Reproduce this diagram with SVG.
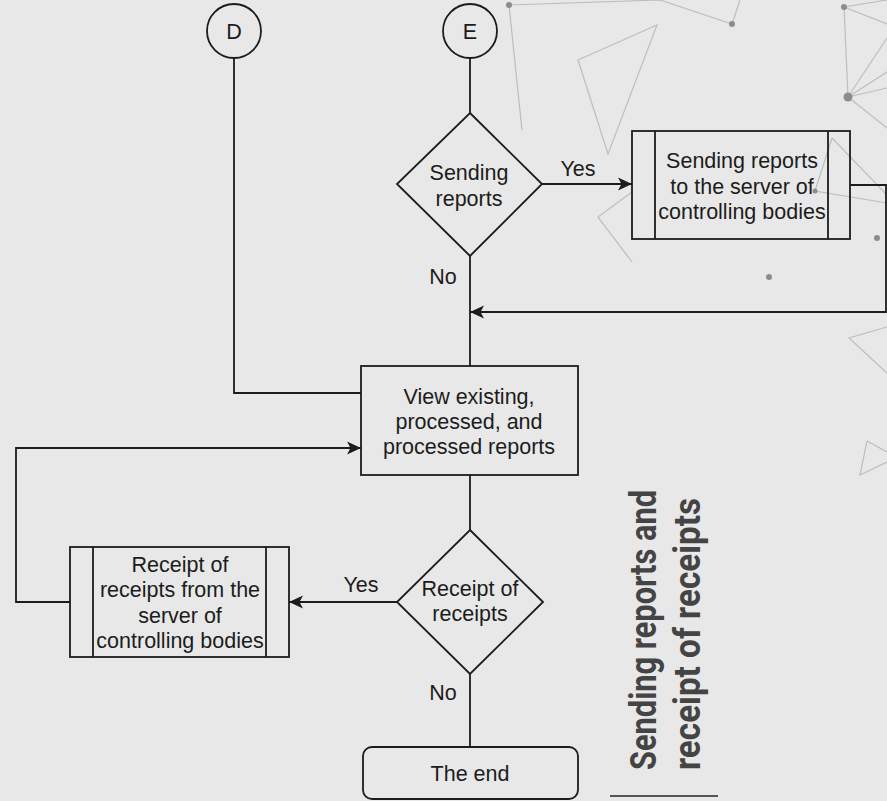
<svg xmlns="http://www.w3.org/2000/svg" width="887" height="801" viewBox="0 0 887 801">
<defs>
<style>
.bg{fill:#e8e8e8}
.deco{stroke:#bdbdbd;stroke-width:1.2;fill:none}
.dot{fill:#8c8c8c}
.shape{fill:none;stroke:#1c1c1c;stroke-width:1.8}
.edge{fill:none;stroke:#1c1c1c;stroke-width:1.8}
.lbl{font-family:"Liberation Sans",Arial,sans-serif;font-size:21.5px;fill:#1c1c1c;text-anchor:middle}
.title{font-family:Roboto,"Liberation Sans",sans-serif;font-weight:bold;font-size:37px;fill:#444444}
</style>
<marker id="arr" markerUnits="userSpaceOnUse" markerWidth="16" markerHeight="14" viewBox="-1 -7 16 14" refX="14" refY="0" orient="auto">
<path d="M0,-6.5 L14,0 L0,6.5 L3.5,0 Z" fill="#1c1c1c"/>
</marker>
</defs>
<rect class="bg" x="0" y="0" width="887" height="801"/>
<g id="background">
<path class="deco" d="M509,5 L660,0 M509,5 L522,130 M657,25 L578,60 L608,154 Z M632,192 L598,217 L632,262 M660,0 L732,24 L740,0"/>
<path class="deco" d="M844,7 L887,0 M844,7 L887,24 M844,7 L848,97 L887,38 M848,97 L887,72 M848,97 L887,88 M848,97 L887,128"/>
<path class="deco" d="M832,138 L815,191 L887,203 M832,138 L887,195"/>
<path class="deco" d="M887,327 L849,338 L887,373 M867,441 L860,475 L887,462 M867,441 L887,452"/>
<circle class="dot" cx="509" cy="5" r="3"/>
<circle class="dot" cx="732" cy="24" r="3"/>
<circle class="dot" cx="844" cy="7" r="3"/>
<circle class="dot" cx="848" cy="97" r="4.5"/>
<circle class="dot" cx="815" cy="191" r="2.5"/>
<circle class="dot" cx="877" cy="238" r="3"/>
<circle class="dot" cx="769" cy="277" r="3"/>
</g>
<g id="connectors">
<path class="edge" d="M234,58 V393 H361"/>
<path class="edge" d="M470,58 V113"/>
<path class="edge" d="M542,184 H632" marker-end="url(#arr)"/>
<path class="edge" d="M850,185 H886 V312 H470" marker-end="url(#arr)"/>
<path class="edge" d="M470,256 V366"/>
<path class="edge" d="M470,475 V530"/>
<path class="edge" d="M397,602 H289" marker-end="url(#arr)"/>
<path class="edge" d="M70,602 H16 V448 H361" marker-end="url(#arr)"/>
<path class="edge" d="M470,674 V747"/>
<text class="lbl" x="578" y="176">Yes</text>
<text class="lbl" x="443" y="284">No</text>
<text class="lbl" x="361" y="592">Yes</text>
<text class="lbl" x="443" y="700">No</text>
</g>
<g id="node-D">
<circle class="shape" cx="234" cy="31" r="27"/>
<text class="lbl" x="234" y="39">D</text>
</g>
<g id="node-E">
<circle class="shape" cx="470" cy="31" r="27"/>
<text class="lbl" x="470" y="39">E</text>
</g>
<g id="node-sending-decision">
<path class="shape" d="M470,113 L542,184 L470,256 L397,184 Z"/>
<text class="lbl" x="469" y="180">Sending</text>
<text class="lbl" x="469" y="206">reports</text>
</g>
<g id="node-sending-process">
<rect class="shape" x="632" y="131" width="218" height="108"/>
<path class="shape" d="M655,131 V239 M828,131 V239"/>
<text class="lbl" x="742" y="168">Sending reports</text>
<text class="lbl" x="742" y="194">to the server of</text>
<text class="lbl" x="742" y="219">controlling bodies</text>
</g>
<g id="node-view">
<rect class="shape" x="361" y="366" width="217" height="109"/>
<text class="lbl" x="469" y="404">View existing,</text>
<text class="lbl" x="469" y="429">processed, and</text>
<text class="lbl" x="469" y="454">processed reports</text>
</g>
<g id="node-receipt-decision">
<path class="shape" d="M470,530 L543,602 L470,674 L397,602 Z"/>
<text class="lbl" x="470" y="596">Receipt of</text>
<text class="lbl" x="470" y="621">receipts</text>
</g>
<g id="node-receipt-process">
<rect class="shape" x="70" y="547" width="219" height="110"/>
<path class="shape" d="M93,547 V657 M266,547 V657"/>
<text class="lbl" x="180" y="572">Receipt of</text>
<text class="lbl" x="180" y="597">receipts from the</text>
<text class="lbl" x="180" y="623">server of</text>
<text class="lbl" x="180" y="648">controlling bodies</text>
</g>
<g id="node-end">
<rect class="shape" x="363" y="747" width="215" height="52" rx="9" ry="9"/>
<text class="lbl" x="470" y="781">The end</text>
</g>
<g id="title">
<text class="title" transform="translate(656,770) rotate(-90)" textLength="280" lengthAdjust="spacingAndGlyphs">Sending reports and</text>
<text class="title" transform="translate(700,770) rotate(-90)" textLength="272" lengthAdjust="spacingAndGlyphs">receipt of receipts</text>
<line x1="610" y1="796" x2="718" y2="796" stroke="#555555" stroke-width="2"/>
</g>
</svg>
